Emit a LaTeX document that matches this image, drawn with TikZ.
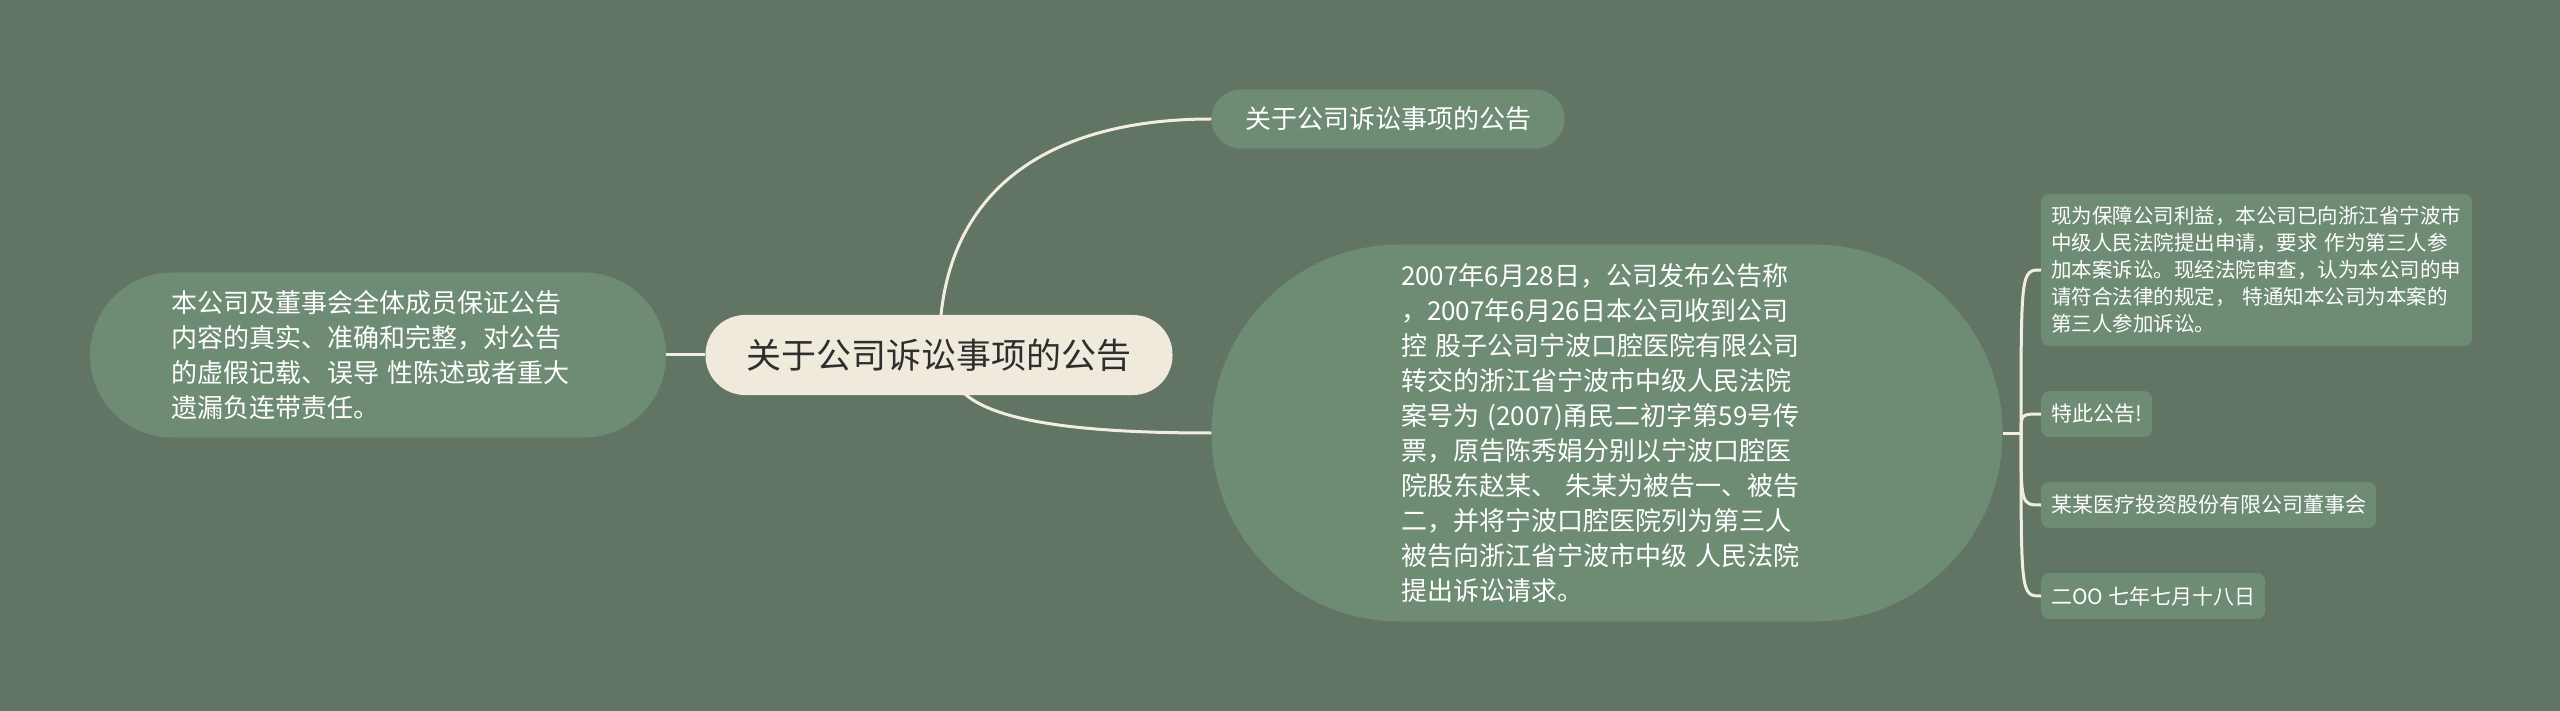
\documentclass[tikz,border=0pt]{standalone}
\usepackage{fontspec}
\newfontfamily\cjk{Noto Sans CJK SC}
\definecolor{bgc}{HTML}{627463}
\definecolor{nodefill}{HTML}{6E8B74}
\definecolor{rootfill}{HTML}{EFEADB}
\definecolor{linec}{HTML}{F2EEDF}
\definecolor{roottext}{HTML}{2E2E2E}
\tikzset{
  topicbox/.style={fill=nodefill, text=white, inner sep=0pt, align=left,
    font=\cjk\fontsize{26}{35}\selectfont},
  subbox/.style={fill=nodefill, text=white, rounded corners=8pt, inner xsep=10pt, inner ysep=0pt,
    minimum height=46pt, align=left, anchor=west, font=\cjk\fontsize{21}{27}\selectfont},
  link/.style={draw=linec, line width=3pt},
}
\begin{document}
\begin{tikzpicture}[x=1pt,y=-1pt]
\fill[bgc] (0,0) rectangle (2560,711);
\useasboundingbox (0,0) rectangle (2560,711);

% root
\node[fill=rootfill, text=roottext, rounded corners=39.5pt, minimum width=467pt, minimum height=80pt,
  inner sep=0pt, font=\cjk\fontsize{35}{40}\selectfont] (root) at (939,355) {关于公司诉讼事项的公告};

% left topic
\node[topicbox, rounded corners=82pt, minimum width=576pt, minimum height=165pt, text width=414pt]
  (left) at (378,355) {本公司及董事会全体成员保证公告\\内容的真实、准确和完整，对公告\\的虚假记载、误导 性陈述或者重大\\遗漏负连带责任。};

% top topic
\node[topicbox, align=center, rounded corners=29pt, minimum width=353pt, minimum height=59pt]
  (top) at (1388,119) {关于公司诉讼事项的公告};

% big right topic
\node[topicbox, rounded corners=188pt, minimum width=791pt, minimum height=377pt, text width=412pt]
  (big) at (1607,433) {2007年6月28日，公司发布公告称\\，2007年6月26日本公司收到公司\\控 股子公司宁波口腔医院有限公司\\转交的浙江省宁波市中级人民法院\\案号为 (2007)甬民二初字第59号传\\票，原告陈秀娟分别以宁波口腔医\\院股东赵某、 朱某为被告一、被告\\二，并将宁波口腔医院列为第三人\\被告向浙江省宁波市中级 人民法院\\提出诉讼请求。};

% right sub topics
\node[subbox, font=\cjk\fontsize{20.5}{27}\selectfont, minimum height=152pt, text width=411pt]
  (s1) at (2041,270) {现为保障公司利益，本公司已向浙江省宁波市\\中级人民法院提出申请，要求 作为第三人参\\加本案诉讼。现经法院审查，认为本公司的申\\请符合法律的规定， 特通知本公司为本案的\\第三人参加诉讼。};
\node[subbox] (s2) at (2041,414) {特此公告!};
\node[subbox] (s3) at (2041,505) {某某医疗投资股份有限公司董事会};
\node[subbox] (s4) at (2041,596) {二OO 七年七月十八日};

% connectors
\draw[link] (left.east) -- (root.west);
\coordinate (rtop) at (941,315);
\coordinate (rbot) at (965,394);
\draw[link] (rtop) .. controls (955,180) and (1060,119) .. (top.west);
\draw[link] (rbot) .. controls (1000,425) and (1100,433) .. (big.west);
\coordinate (trunk) at (2021,433);
\draw[link] (big.east) -- (trunk);
\foreach \c in {s1,s2,s3,s4}{
  \draw[link] (trunk) .. controls (trunk |- \c.west) and (trunk |- \c.west) .. (\c.west);
}
\end{tikzpicture}
\end{document}
